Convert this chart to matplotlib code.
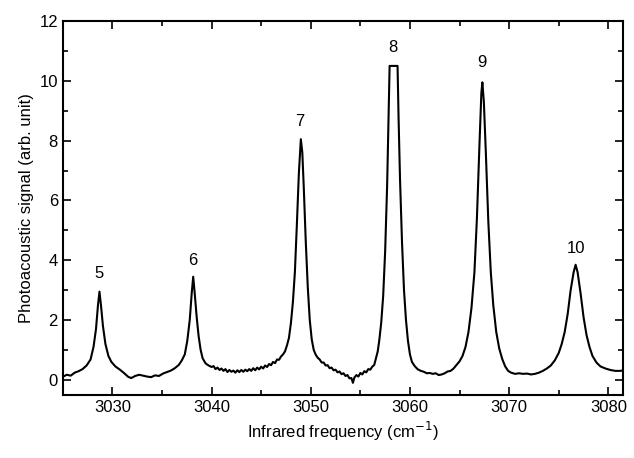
import matplotlib
matplotlib.use("Agg")
import matplotlib.pyplot as plt
from matplotlib.ticker import MultipleLocator

plt.rcParams["font.family"] = ["Liberation Sans", "DejaVu Sans"]

# Spectrum (cm^-1, arb. unit)
freq = [
    3025.0, 3025.4, 3025.8, 3026.2, 3026.6, 3027.0, 3027.4, 3027.8, 3028.1, 3028.35,
    3028.55, 3028.7, 3028.85, 3029.05, 3029.3, 3029.6, 3029.9, 3030.3, 3030.8, 3031.2,
    3031.6, 3031.9, 3032.3, 3032.7, 3033.1, 3033.5, 3033.9, 3034.3, 3034.7, 3035.1,
    3035.5, 3035.9, 3036.3, 3036.7, 3037.0, 3037.3, 3037.55, 3037.8, 3038.0, 3038.15,
    3038.3, 3038.5, 3038.7, 3038.9, 3039.1, 3039.4, 3039.7, 3040.0, 3040.2, 3040.4,
    3040.6, 3040.8, 3041.0, 3041.2, 3041.4, 3041.6, 3041.8, 3042.0, 3042.2, 3042.4,
    3042.6, 3042.8, 3043.0, 3043.2, 3043.4, 3043.6, 3043.8, 3044.0, 3044.2, 3044.4,
    3044.6, 3044.8, 3045.0, 3045.2, 3045.4, 3045.6, 3045.8, 3046.0, 3046.2, 3046.4,
    3046.6, 3046.8, 3047.0, 3047.2, 3047.4, 3047.6, 3047.8, 3048.0, 3048.2, 3048.4,
    3048.6, 3048.8, 3049.0, 3049.15, 3049.3, 3049.5, 3049.7, 3049.9, 3050.1, 3050.3,
    3050.5, 3050.7, 3050.9, 3051.1, 3051.3, 3051.5, 3051.7, 3051.9, 3052.1, 3052.3,
    3052.5, 3052.7, 3052.9, 3053.1, 3053.3, 3053.5, 3053.7, 3053.9, 3054.1, 3054.25,
    3054.4, 3054.6, 3054.8, 3055.0, 3055.2, 3055.4, 3055.6, 3055.8, 3056.0, 3056.2,
    3056.4, 3056.6, 3056.75, 3056.9, 3057.1, 3057.3, 3057.5, 3057.7, 3057.85, 3057.95,
    3058.75, 3058.85, 3059.0, 3059.2, 3059.4, 3059.6, 3059.8, 3060.0, 3060.2, 3060.5,
    3060.8, 3061.1, 3061.4, 3061.7, 3062.0, 3062.3, 3062.6, 3062.9, 3063.2, 3063.5,
    3063.8, 3064.1, 3064.4, 3064.7, 3065.0, 3065.3, 3065.6, 3065.9, 3066.2, 3066.5,
    3066.75, 3067.0, 3067.2, 3067.3, 3067.45, 3067.65, 3067.9, 3068.15, 3068.4, 3068.7,
    3069.0, 3069.3, 3069.6, 3069.9, 3070.2, 3070.6, 3071.0, 3071.4, 3071.8, 3072.2,
    3072.6, 3073.0, 3073.4, 3073.8, 3074.2, 3074.6, 3075.0, 3075.3, 3075.6, 3075.9,
    3076.2, 3076.5, 3076.7, 3076.9, 3077.2, 3077.5, 3077.8, 3078.1, 3078.4, 3078.8,
    3079.2, 3079.7, 3080.2, 3080.7, 3081.2, 3081.5,
]
signal = [
    0.10, 0.17, 0.14, 0.24, 0.29, 0.36, 0.48, 0.68, 1.10, 1.70,
    2.50, 2.95, 2.50, 1.80, 1.20, 0.80, 0.60, 0.45, 0.33, 0.22,
    0.10, 0.06, 0.13, 0.17, 0.14, 0.11, 0.09, 0.15, 0.13, 0.21,
    0.26, 0.31, 0.39, 0.50, 0.65, 0.85, 1.30, 2.00, 2.90, 3.45,
    2.90, 2.10, 1.45, 1.00, 0.72, 0.55, 0.48, 0.43, 0.46, 0.36,
    0.41, 0.33, 0.38, 0.30, 0.36, 0.26, 0.33, 0.27, 0.31, 0.24,
    0.32, 0.26, 0.33, 0.27, 0.34, 0.29, 0.36, 0.30, 0.39, 0.32,
    0.41, 0.35, 0.44, 0.38, 0.48, 0.43, 0.53, 0.49, 0.60, 0.56,
    0.68, 0.67, 0.78, 0.85, 0.95, 1.15, 1.40, 1.90, 2.60, 3.60,
    5.20, 6.90, 8.05, 7.60, 6.40, 4.60, 3.10, 2.00, 1.35, 1.00,
    0.84, 0.74, 0.68, 0.58, 0.58, 0.48, 0.49, 0.39, 0.41, 0.32,
    0.34, 0.25, 0.28, 0.19, 0.22, 0.13, 0.16, 0.05, 0.06, -0.10,
    0.08, 0.16, 0.11, 0.23, 0.18, 0.29, 0.25, 0.36, 0.34, 0.44,
    0.50, 0.75, 0.95, 1.30, 1.90, 2.80, 4.30, 6.50, 8.80, 10.50,
    10.50, 8.80, 6.70, 4.60, 3.00, 2.00, 1.30, 0.85, 0.60, 0.45,
    0.35, 0.30, 0.27, 0.22, 0.23, 0.20, 0.22, 0.16, 0.18, 0.22,
    0.28, 0.30, 0.38, 0.50, 0.62, 0.80, 1.10, 1.60, 2.40, 3.60,
    5.40, 7.80, 9.60, 9.95, 9.30, 7.60, 5.30, 3.60, 2.50, 1.60,
    1.05, 0.70, 0.45, 0.30, 0.24, 0.20, 0.22, 0.20, 0.21, 0.18,
    0.20, 0.24, 0.30, 0.38, 0.48, 0.65, 0.90, 1.20, 1.60, 2.20,
    3.00, 3.60, 3.85, 3.60, 2.90, 2.10, 1.50, 1.10, 0.80, 0.58,
    0.45, 0.38, 0.33, 0.30, 0.30, 0.32,
]

# peak labels
peak_names = ["5", "6", "7", "8", "9", "10"]
peak_x = [3028.7, 3038.1, 3048.9, 3058.3, 3067.3, 3076.7]
peak_y = [3.55, 4.0, 8.65, 11.1, 10.6, 4.4]

fig = plt.figure(figsize=(6.34, 4.58), dpi=100)
ax = fig.add_axes([0.099, 0.138, 0.884, 0.816])

ax.plot(freq, signal, color="black", linewidth=1.5)

for name, px, py in zip(peak_names, peak_x, peak_y):
    ax.text(px, py, name, ha="center", va="center", fontsize=12)

ax.set_xlim(3025, 3081.5)
ax.set_ylim(-0.5, 12)
ax.xaxis.set_major_locator(MultipleLocator(10))
ax.xaxis.set_minor_locator(MultipleLocator(5))
ax.yaxis.set_major_locator(MultipleLocator(2))
ax.yaxis.set_minor_locator(MultipleLocator(1))
ax.tick_params(which="both", direction="in", top=True, right=True, width=1.2,
               labelsize=12)
ax.tick_params(which="major", length=6)
ax.tick_params(which="minor", length=3.5)
for sp in ax.spines.values():
    sp.set_linewidth(1.5)

ax.set_xlabel("Infrared frequency (cm$^{-1}$)", fontsize=12)
ax.set_ylabel("Photoacoustic signal (arb. unit)", fontsize=12)

fig.savefig("out.png", dpi=100)
